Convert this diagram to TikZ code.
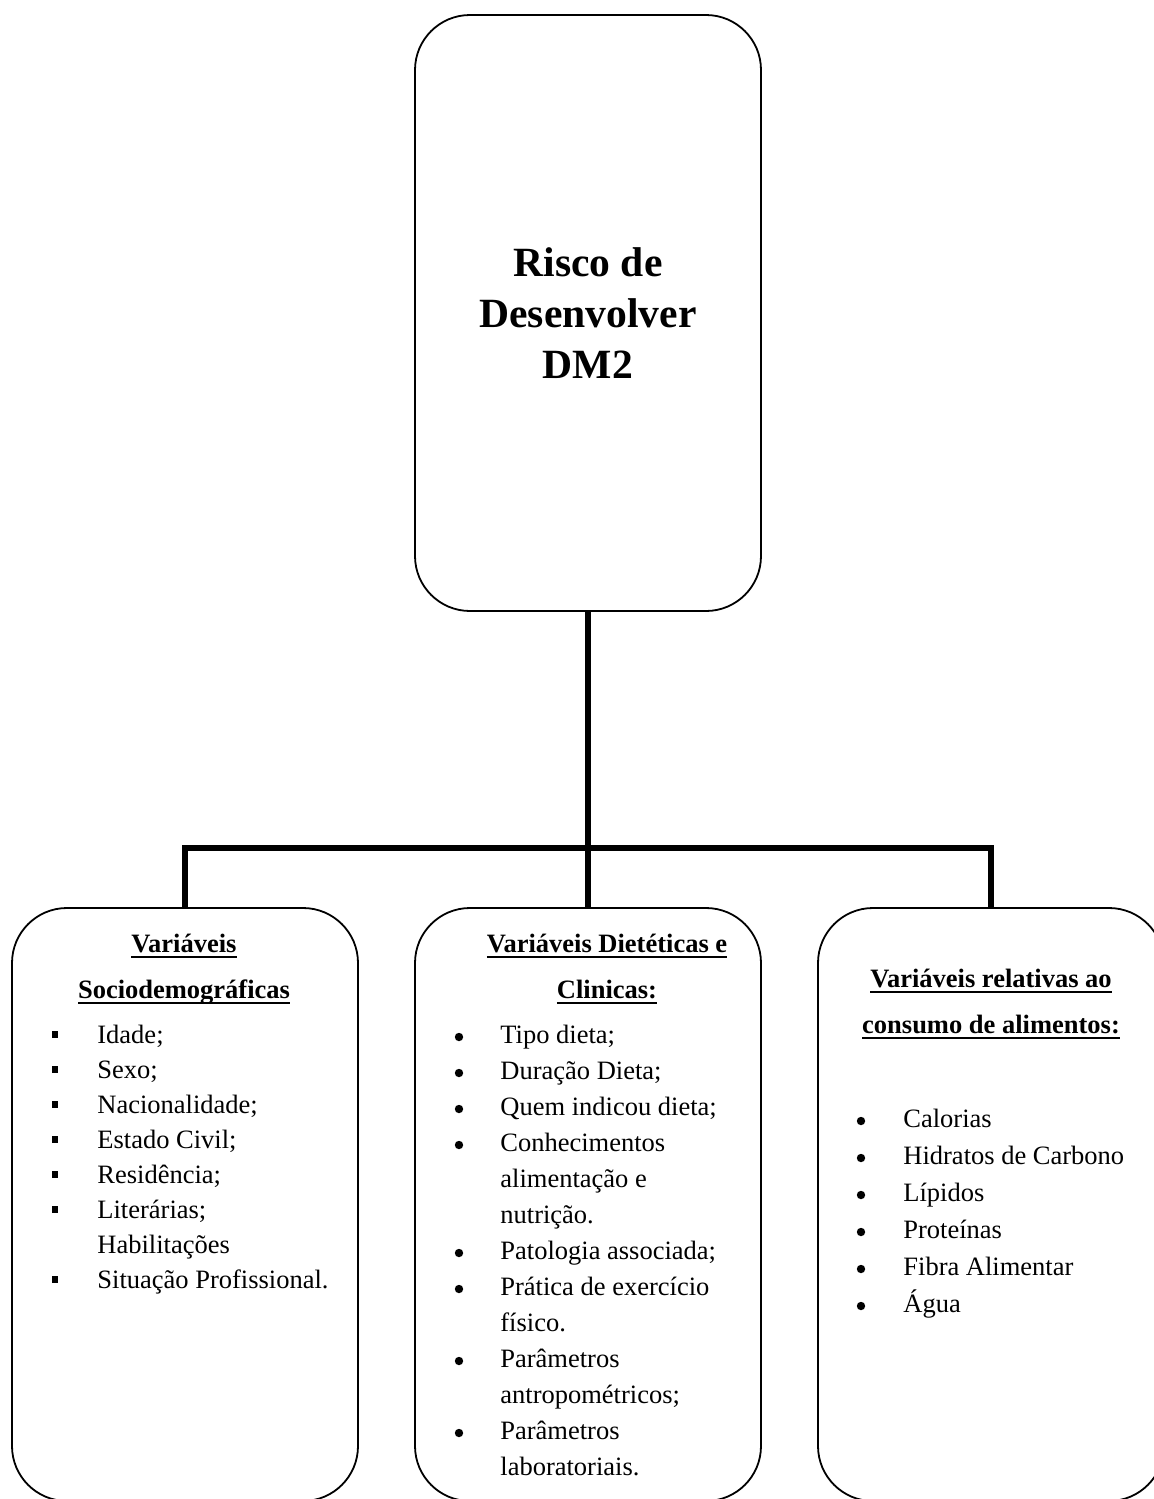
\documentclass[tikz,border=0pt]{standalone}
\usepackage{fontspec}
\setmainfont{Liberation Serif}
\newcommand\myul[1]{\setbox0\hbox{#1}\rlap{\rule[-2.8pt]{\wd0}{1pt}}\box0}
\begin{document}
\begin{tikzpicture}[x=0.5pt,y=-0.5pt,
  box/.style={draw, line width=0.9pt, rounded corners=27.5pt, minimum width=173pt,
    inner sep=0pt, outer sep=0pt},
  trunk/.style={line width=3.35pt, line join=miter},
  txt/.style={anchor=base west, inner sep=0pt, font=\fontsize{13.25pt}{16pt}\selectfont},
  head/.style={anchor=base, inner sep=0pt, font=\fontsize{13.25pt}{16pt}\selectfont\bfseries},
  dotb/.style={circle, fill=black, minimum size=4.2pt, inner sep=0pt, outer sep=0pt},
  sqb/.style={fill=black, minimum size=3.4pt, inner sep=0pt, outer sep=0pt}]
\useasboundingbox (0,0) rectangle (1154,1499);
% boxes
\node[box, minimum height=298pt, align=center,
  font=\fontsize{20.8pt}{25.5pt}\selectfont\bfseries] (T) at (588,313)
  {Risco de\\Desenvolver\\DM2};
\node[box, minimum height=296.5pt] (L) at (185,1204.5) {};
\node[box, minimum height=296.5pt] (M) at (588,1204.5) {};
\node[box, minimum height=296.5pt] (R) at (991,1204.5) {};
% connectors
\coordinate (j) at (588,848);
\draw[trunk] (T.south) -- (j);
\draw[trunk] (j) -- (M.north);
\draw[trunk] (L.north) |- (j) -| (R.north);
% left box
\node[head] (Lh1) at (184,952) {\myul{Variáveis}};
\node[head] (Lh2) at (184,998) {\myul{Sociodemográficas}};
\foreach \t [count=\i] in {Idade;, Sexo;, Nacionalidade;, Estado Civil;, Residência;, Literárias;, Habilitações, Situação Profissional.}
  \node[txt] (Lt\i) at (97,{1043+35*(\i-1)}) {\t};
\foreach \i in {1,2,3,4,5,6,8}
  \node[sqb] (Lb\i) at (55,{1034.5+35*(\i-1)}) {};
% middle box
\node[head] (Mh1) at (607,952) {\myul{Variáveis Dietéticas e}};
\node[head] (Mh2) at (607,998) {\myul{Clinicas:}};
\foreach \t [count=\i] in {Tipo dieta;, Duração Dieta;, Quem indicou dieta;, Conhecimentos, alimentação e, nutrição., Patologia associada;, Prática de exercício, físico., Parâmetros, antropométricos;, Parâmetros, laboratoriais.}
  \node[txt] (Mt\i) at (500,{1043+36*(\i-1)}) {\t};
\foreach \i in {1,2,3,4,7,8,10,12}
  \node[dotb] (Mb\i) at (459,{1037+36*(\i-1)}) {};
% right box
\node[head] (Rh1) at (991,987) {\myul{Variáveis relativas ao}};
\node[head] (Rh2) at (991,1033) {\myul{consumo de alimentos:}};
\foreach \t [count=\i] in {Calorias, Hidratos de Carbono, Lípidos, Proteínas, Fibra Alimentar, Água}
  \node[txt] (Rt\i) at (903,{1127+37*(\i-1)}) {\t};
\foreach \i in {1,...,6}
  \node[dotb] (Rb\i) at (861,{1121+37*(\i-1)}) {};
\end{tikzpicture}
\end{document}
